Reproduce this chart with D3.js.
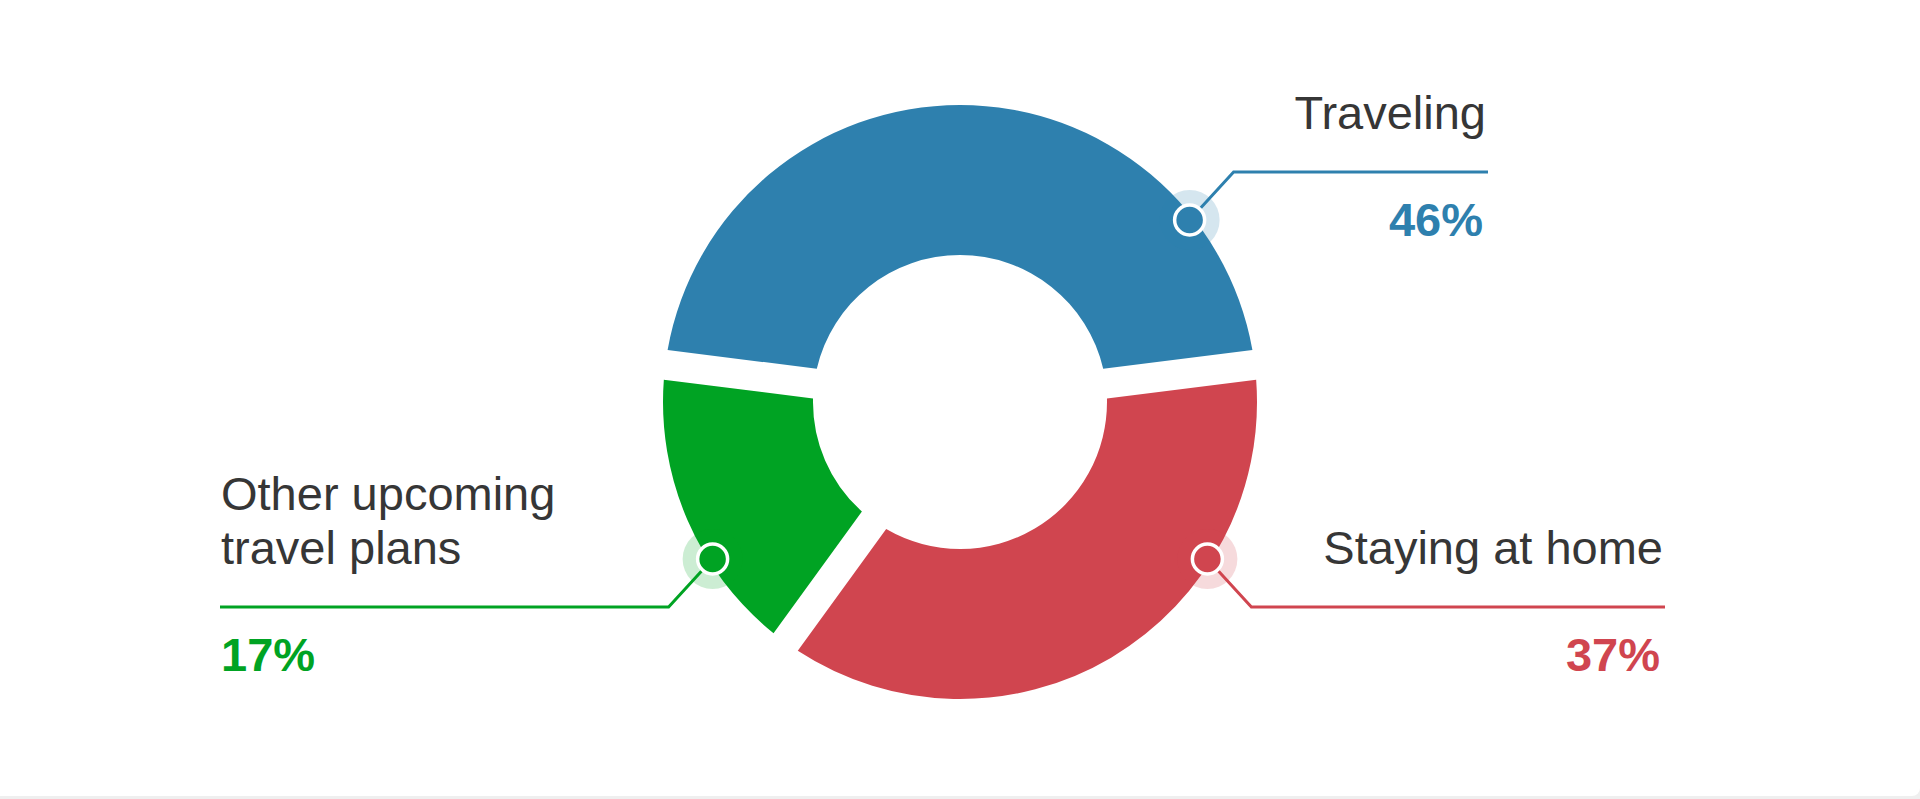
<!DOCTYPE html>
<html>
<head>
<meta charset="utf-8">
<script src="https://cdn.jsdelivr.net/npm/d3@7"></script>
<style>
  html, body { margin: 0; padding: 0; background: #efefef; overflow: hidden; }
  svg { display: block; }
</style>
</head>
<body>
<svg width="1920" height="799"></svg>
<script>
// Chart data
var categories = ['Traveling', 'Staying at home', 'Other upcoming travel plans'];
var labelLines = [['Traveling'], ['Staying at home'], ['Other upcoming', 'travel plans']];
var shares = [46, 37, 17];
var colors = ['#2e80ae', '#d0454f', '#00a323'];

var svg = d3.select('svg');
var svgWidth = +svg.attr('width');
var svgHeight = +svg.attr('height');

// white card
svg.append('rect')
    .attr('x', -20).attr('y', -20)
    .attr('width', svgWidth + 20).attr('height', svgHeight + 17)
    .attr('rx', 8)
    .attr('fill', '#ffffff');

var cx = 960, cy = 402;
var outerR = 297, innerR = 147;
var gap = 30;

var data = categories.map(function(c, i) {
    return {name: c, lines: labelLines[i], value: shares[i], color: colors[i]};
});

var total = d3.sum(shares);
var pie = d3.pie()
    .sort(null)
    .value(function(d) { return d.value; })
    .startAngle(-Math.PI * shares[0] / total)
    .endAngle(2 * Math.PI - Math.PI * shares[0] / total);

var arc = d3.arc()
    .innerRadius(innerR)
    .outerRadius(outerR)
    .padAngle(gap / outerR)
    .padRadius(outerR);

var chartG = svg.append('g')
    .attr('transform', 'translate(' + [cx, cy] + ')');

var arcs = pie(data);

chartG.selectAll('.slice')
    .data(arcs)
    .enter()
    .append('path')
    .attr('class', 'slice')
    .attr('d', arc)
    .attr('fill', function(d) { return d.data.color; });

// callout layout (angle of marker in degrees, side, end of leader line)
var callouts = [
    {angle: 51.6, side: 1, up: true,  endX: 1488},
    {angle: 122.4, side: 1, up: false, endX: 1665},
    {angle: 237.6, side: -1, up: false, endX: 220}
];
var markerR = 293;

var labelG = svg.append('g');

arcs.forEach(function(d, i) {
    var c = callouts[i];
    var a = c.angle * Math.PI / 180;
    var mx = cx + markerR * Math.sin(a);
    var my = cy - markerR * Math.cos(a);
    var ex = mx + c.side * 44;
    var ey = my + (c.up ? -48 : 48);
    var color = d.data.color;

    labelG.append('polyline')
        .attr('points', [[mx, my], [ex, ey], [c.endX, ey]].map(function(p) { return p.join(','); }).join(' '))
        .attr('fill', 'none')
        .attr('stroke', color)
        .attr('stroke-width', 3);

    labelG.append('circle')
        .attr('cx', mx).attr('cy', my)
        .attr('r', 30)
        .attr('fill', color)
        .attr('opacity', 0.2);

    labelG.append('circle')
        .attr('cx', mx).attr('cy', my)
        .attr('r', 15)
        .attr('fill', color)
        .attr('stroke', '#ffffff')
        .attr('stroke-width', 3.5);

    var anchor = c.side > 0 ? 'end' : 'start';
    var tx = c.side > 0 ? c.endX - 2 : c.endX + 1;
    var lines = d.data.lines;

    lines.forEach(function(line, j) {
        labelG.append('text')
            .attr('x', tx)
            .attr('y', ey - 43 - (lines.length - 1 - j) * 54)
            .attr('text-anchor', anchor)
            .attr('font-family', '"Liberation Sans", Arial, sans-serif')
            .attr('font-size', 47)
            .attr('fill', '#363636')
            .text(line);
    });

    labelG.append('text')
        .attr('x', c.side > 0 ? tx - 3 : tx)
        .attr('y', ey + 64)
        .attr('text-anchor', anchor)
        .attr('font-family', '"Liberation Sans", Arial, sans-serif')
        .attr('font-size', 47)
        .attr('font-weight', 'bold')
        .attr('fill', color)
        .text(d.data.value + '%');
});
</script>
</body>
</html>
